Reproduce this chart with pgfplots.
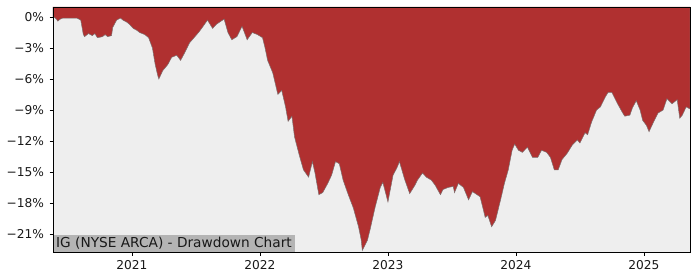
\documentclass[border=0pt]{standalone}
\usepackage{fontspec}
\setmainfont{DejaVu Sans}
\usepackage{pgfplots}
\pgfplotsset{compat=1.18}
\definecolor{ddred}{RGB}{176,48,48}
\definecolor{bggray}{RGB}{238,238,238}
\definecolor{lblgray}{RGB}{180,180,180}
\definecolor{edgegray}{RGB}{125,110,110}
\begin{document}
\begin{tikzpicture}
\path[use as bounding box] (-53bp,-28bp) rectangle (647bp,252bp);
\begin{axis}[
  at={(0,0)}, anchor=south west,
  scale only axis, width=637bp, height=245bp,
  xmin=2020.383, xmax=2025.36, ymin=-22.75, ymax=0.97,
  axis background/.style={fill=bggray},
  axis on top,
  axis line style={black, line width=0.8pt},
  tick align=outside, tick pos=left,
  major tick length=3.5bp,
  tick style={black, line width=0.8pt},
  xtick={2021,2022,2023,2024,2025},
  xticklabels={2021,2022,2023,2024,2025},
  ytick={-21,-18,-15,-12,-9,-6,-3,0},
  yticklabels={−21\%,−18\%,−15\%,−12\%,−9\%,−6\%,−3\%,0\%},
  ticklabel style={font=\fontsize{12.2bp}{13bp}\selectfont, text=black!90},
  xticklabel style={yshift=-1bp},
  yticklabel style={xshift=-2bp},
]
\addplot[fill=ddred, draw=edgegray, line width=0.5bp] coordinates {
(2020.383,0.97)
(2020.383,0) (2020.39,0) (2020.41,-0.2) (2020.42,-0.4) (2020.44,-0.2) (2020.46,-0.1)
(2020.52,-0.1) (2020.57,-0.1) (2020.60,-0.3) (2020.62,-1.7) (2020.63,-1.9) (2020.66,-1.6)
(2020.69,-1.8) (2020.71,-1.6) (2020.73,-2.0) (2020.77,-1.9) (2020.79,-1.7) (2020.81,-1.9)
(2020.84,-1.8) (2020.85,-1.0) (2020.88,-0.3) (2020.91,-0.1) (2020.93,-0.3) (2020.96,-0.5)
(2020.98,-0.7) (2021.01,-1.1) (2021.04,-1.3) (2021.06,-1.5) (2021.10,-1.7) (2021.13,-2.0)
(2021.16,-3.0) (2021.18,-4.5) (2021.20,-5.6) (2021.21,-6.0) (2021.24,-5.2) (2021.28,-4.6)
(2021.31,-3.9) (2021.35,-3.7) (2021.38,-4.2) (2021.41,-3.5) (2021.45,-2.5) (2021.52,-1.5)
(2021.55,-1.0) (2021.59,-0.3) (2021.63,-1.1) (2021.66,-0.7) (2021.72,-0.2) (2021.75,-1.5)
(2021.78,-2.2) (2021.82,-1.9) (2021.86,-0.9) (2021.90,-2.2) (2021.94,-1.5) (2021.98,-1.7)
(2022.02,-2.0) (2022.04,-3.0) (2022.06,-4.2) (2022.10,-5.4) (2022.14,-7.5) (2022.17,-7.1)
(2022.20,-8.7) (2022.22,-10.1) (2022.25,-9.6) (2022.27,-11.6) (2022.31,-13.5) (2022.34,-14.8)
(2022.38,-15.5) (2022.41,-14.0) (2022.43,-15.1) (2022.46,-17.2) (2022.49,-17.0) (2022.53,-16.1)
(2022.56,-15.3) (2022.59,-14.0) (2022.62,-14.2) (2022.65,-15.8) (2022.69,-17.2) (2022.73,-18.5)
(2022.77,-20.3) (2022.79,-21.5) (2022.80,-22.6) (2022.84,-21.6) (2022.86,-20.6) (2022.90,-18.4)
(2022.94,-16.5) (2022.96,-16.0) (2023.00,-17.9) (2023.04,-15.3) (2023.07,-14.6) (2023.09,-14.0)
(2023.13,-15.7) (2023.17,-17.1) (2023.21,-16.3) (2023.23,-15.8) (2023.27,-15.1) (2023.30,-15.5)
(2023.34,-15.8) (2023.37,-16.3) (2023.41,-17.2) (2023.43,-16.7) (2023.47,-16.5) (2023.51,-16.4)
(2023.52,-17.0) (2023.55,-16.1) (2023.59,-16.5) (2023.63,-17.7) (2023.66,-16.9) (2023.72,-17.4)
(2023.76,-19.4) (2023.78,-19.2) (2023.81,-20.3) (2023.84,-19.7) (2023.88,-17.7) (2023.91,-16.1)
(2023.94,-14.8) (2023.97,-12.9) (2023.99,-12.3) (2024.02,-12.9) (2024.05,-13.1) (2024.09,-12.6)
(2024.13,-13.6) (2024.17,-13.6) (2024.20,-12.9) (2024.24,-13.1) (2024.27,-13.6) (2024.30,-14.8)
(2024.33,-14.8) (2024.36,-13.8) (2024.40,-13.2) (2024.44,-12.4) (2024.48,-11.9) (2024.50,-12.2)
(2024.54,-11.2) (2024.56,-11.4) (2024.59,-10.2) (2024.63,-9.0) (2024.66,-8.7) (2024.70,-7.7)
(2024.72,-7.3) (2024.75,-7.3) (2024.79,-8.3) (2024.83,-9.2) (2024.85,-9.6) (2024.89,-9.5)
(2024.91,-8.8) (2024.94,-8.1) (2024.97,-9.0) (2024.99,-10.0) (2025.02,-10.5) (2025.04,-11.1)
(2025.07,-10.3) (2025.11,-9.3) (2025.15,-9.0) (2025.18,-7.9) (2025.22,-8.4) (2025.26,-8.0)
(2025.28,-9.8) (2025.30,-9.5) (2025.33,-8.7) (2025.36,-8.9)
(2025.36,0.97)
};
\node[anchor=south west, fill=lblgray, inner xsep=3bp, inner ysep=2.5bp,
  font=\fontsize{13.7bp}{15bp}\selectfont, text=black!90]
  at (rel axis cs:0,0) {IG (NYSE ARCA) - Drawdown Chart};
\end{axis}
\end{tikzpicture}
\end{document}
